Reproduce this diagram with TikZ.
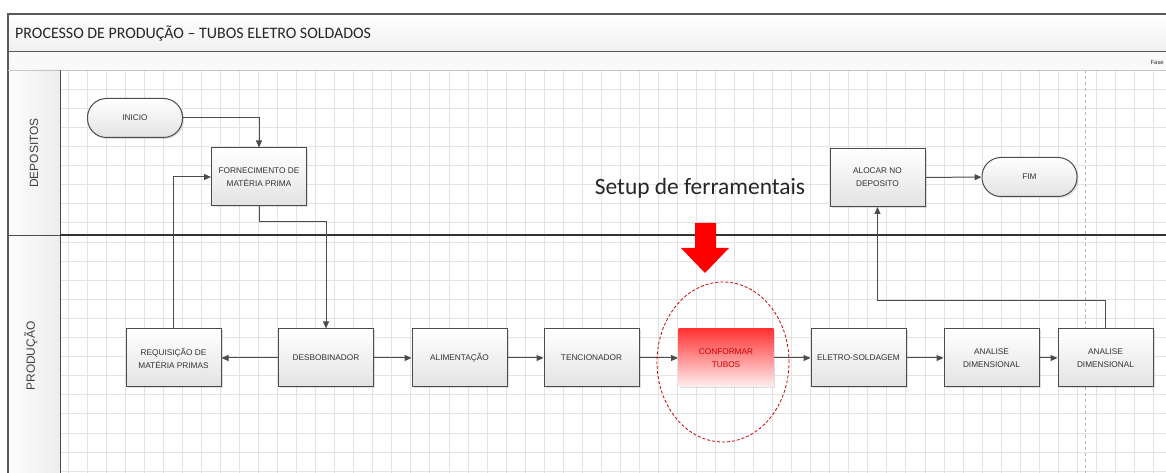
\documentclass[tikz,border=0pt]{standalone}
\usepackage{fontspec}
\setmainfont{Carlito}
\newfontfamily\boxfont{Liberation Sans}
\usetikzlibrary{arrows.meta,shadows}
\tikzset{
  box/.style={draw=gray!60!black, line width=1bp, top color=white, bottom color=gray!22,
    minimum width=95bp, minimum height=58bp, inner sep=0pt, align=center,
    font=\boxfont\fontsize{8.3}{13}\selectfont, text=black!80,
    drop shadow={opacity=0.25,shadow xshift=1.5bp,shadow yshift=-1.5bp}},
  pill/.style={box, rounded corners=19bp, minimum height=39bp},
  hotbox/.style={box, draw=none, top color=red!80, bottom color=red!6, text=red!80!black},
  conn/.style={draw=black!70, line width=1bp, -{Triangle[length=7bp,width=6bp]}},
  lanetxt/.style={rotate=90, font=\boxfont\fontsize{12}{14}\selectfont, text=black!75},
}
\begin{document}
\begin{tikzpicture}[x=1bp, y=-1bp]
  \useasboundingbox (0,0) rectangle (1166,473);
  \fill[top color=white, bottom color=gray!12] (8,14) rectangle (1180,52);
  \fill[gray!5] (8,52) rectangle (1180,70);
  \fill[left color=gray!2, right color=gray!14] (8,70) rectangle (60,480);
  \foreach \i in {0,...,58}
    \draw[gray!22, line width=0.6bp] (68+19.04*\i,70) -- (68+19.04*\i,480);
  \foreach \j in {0,...,21}
    \draw[gray!22, line width=0.6bp] (60,70+19.1*\j) -- (1180,70+19.1*\j);
  \draw[gray!55, dashed, line width=0.8bp] (1085,70) -- (1085,480);
  \draw[gray!70!black, line width=1.3bp] (8,480) -- (8,14) -- (1180,14);
  \draw[gray!70!black, line width=1bp] (8,52) -- (1180,52);
  \draw[gray!45, line width=0.8bp] (8,70) -- (1180,70);
  \draw[gray!60!black, line width=0.9bp] (60,70) -- (60,480);
  \draw[gray!60!black, line width=0.9bp] (8,235) -- (60,235);
  \draw[black!80, line width=2bp] (60,235) -- (1180,235);

  \node[anchor=west, inner sep=0pt, font=\fontsize{16}{18}\selectfont, text=black!85] (title) at (15,33) {PROCESSO DE PRODUÇÃO – TUBOS ELETRO SOLDADOS};
  \node[anchor=west, font=\boxfont\fontsize{6}{7}\selectfont, text=black!80] (fase) at (1147,62) {Fase};
  \node[lanetxt] (dep) at (34,153) {DEPOSITOS};
  \node[lanetxt] (prod) at (31,356) {PRODUÇÃO};

  \node[pill] (inicio) at (135,118) {INICIO};
  \node[box] (forn) at (259,177) {FORNECIMENTO DE\\MATÉRIA PRIMA};
  \node[box] (aloc) at (877.5,177.5) {ALOCAR NO\\DEPOSITO};
  \node[pill] (fim) at (1029.5,177) {FIM};

  \node[box] (req) at (173.5,358) {REQUISIÇÃO DE\\MATÉRIA PRIMAS};
  \node[box] (desb) at (326,358) {DESBOBINADOR};
  \node[box] (alim) at (459.5,358) {ALIMENTAÇÃO};
  \node[box] (tenc) at (591.5,358) {TENCIONADOR};
  \node[hotbox] (conf) at (726,358) {CONFORMAR\\TUBOS};
  \node[box] (solda) at (858.5,358) {ELETRO-SOLDAGEM};
  \node[box] (dim1) at (991.5,358) {ANALISE\\DIMENSIONAL};
  \node[box] (dim2) at (1105.5,358) {ANALISE\\DIMENSIONAL};

  \draw[conn] (inicio.east) -| (forn.north);
  \draw[conn] (req.north) |- (forn.west);
  \draw[conn] (forn.south) -- ++(0,15) -| (desb.north);
  \draw[conn] (desb) -- (req);
  \draw[conn] (desb) -- (alim);
  \draw[conn] (alim) -- (tenc);
  \draw[conn] (tenc) -- (conf);
  \draw[conn] (conf) -- (solda);
  \draw[conn] (solda) -- (dim1);
  \draw[conn] (dim1) -- (dim2);
  \draw[conn] (dim2.north) -- ++(0,-28) -| (aloc.south);
  \draw[conn] (aloc) -- (fim);

  \node[anchor=base, font=\fontsize{23.5}{26}\selectfont, text=black!85] (setup) at (700,195) {Setup de ferramentais};
  \fill[red] (695,223) -- (716,223) -- (716,248) -- (729,248) -- (705,273) -- (681,248) -- (695,248) -- cycle;
  \draw[red!80!black, densely dashed, line width=0.8bp] (723,362) ellipse (66bp and 80bp);
\end{tikzpicture}
\end{document}
